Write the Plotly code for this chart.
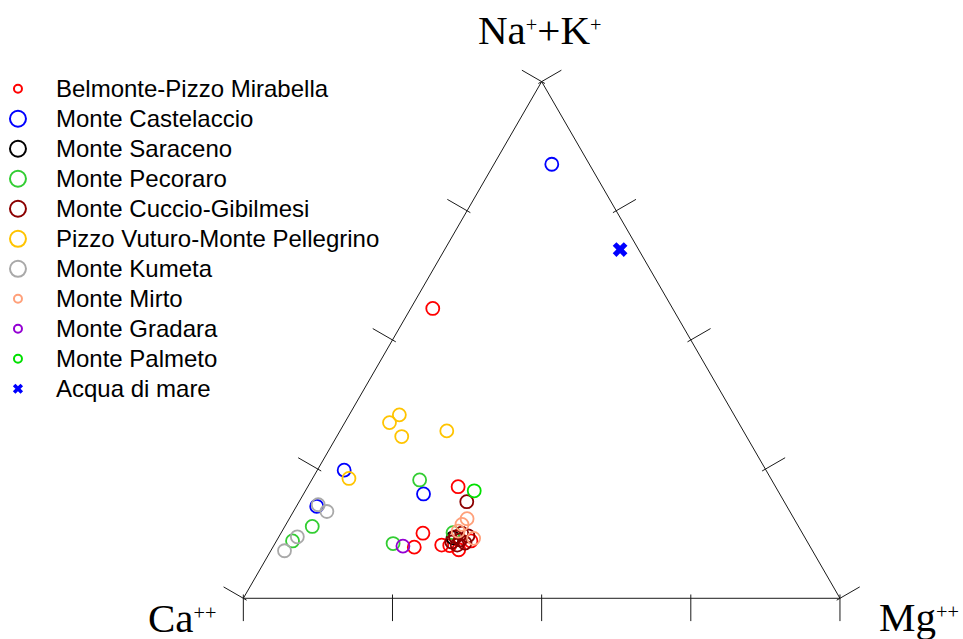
import plotly.graph_objects as go

# ---- legend / group definitions ----
groups = ["Belmonte-Pizzo Mirabella", "Monte Castelaccio", "Monte Saraceno", "Monte Pecoraro",
          "Monte Cuccio-Gibilmesi", "Pizzo Vuturo-Monte Pellegrino", "Monte Kumeta",
          "Monte Mirto", "Monte Gradara", "Monte Palmeto", "Acqua di mare"]
colors = ["#FF0000", "#0000FF", "#000000", "#32CD32", "#8B0000", "#FFC400",
          "#A9A9A9", "#FFA07A", "#9400D3", "#00E000", "#0000FF"]

# ---- data: % of meq  (Na+K, Ca, Mg) ----
belmonte_nak = [56.1, 21.6, 12.6, 9.9, 10.3, 10.2, 9.4, 11.1]
belmonte_ca = [40.2, 53.2, 63.6, 66.4, 61.6, 60.3, 59.2, 56.3]
belmonte_mg = [3.7, 25.2, 23.8, 23.7, 28.1, 29.5, 31.4, 32.6]

castelaccio_nak = [84.0, 24.8, 20.2, 17.8]
castelaccio_ca = [6.3, 70.7, 59.7, 78.8]
castelaccio_mg = [9.7, 4.5, 20.1, 3.4]

saraceno_nak = [11.7]
saraceno_ca = [59.0]
saraceno_mg = [29.3]

pecoraro_nak = [13.9, 11.1, 22.9, 10.6, 12.7]
pecoraro_ca = [81.5, 86.2, 59.0, 69.6, 58.5]
pecoraro_mg = [4.6, 2.7, 18.1, 19.8, 28.8]

cuccio_nak = [18.7, 11.9, 11.3, 10.7, 10.9, 12.1, 10.3, 12.6]
cuccio_ca = [53.2, 58.5, 58.0, 57.5, 59.6, 56.3, 59.0, 57.1]
cuccio_mg = [28.1, 29.6, 30.7, 31.8, 29.5, 31.6, 30.7, 30.3]

vuturo_nak = [35.5, 34.0, 31.3, 32.4, 23.2]
vuturo_ca = [56.1, 58.5, 57.8, 49.7, 70.7]
vuturo_mg = [8.4, 7.5, 10.9, 17.9, 6.1]

kumeta_nak = [18.1, 16.8, 11.9, 9.2]
kumeta_ca = [78.4, 77.6, 85.0, 88.5]
kumeta_mg = [3.5, 5.6, 3.1, 2.3]

mirto_nak = [15.4, 14.3, 11.6, 13.0]
mirto_ca = [54.8, 56.2, 55.6, 57.5]
mirto_mg = [29.8, 29.5, 32.8, 29.5]

gradara_nak = [10.1]
gradara_ca = [68.2]
gradara_mg = [21.7]

palmeto_nak = [20.8]
palmeto_ca = [50.9]
palmeto_mg = [28.3]

mare_nak = [67.5]
mare_ca = [3.1]
mare_mg = [29.4]

# ---- axis ticks (values along each edge, in %) ----
tick_values = [0, 25, 50, 75, 100]

series = [
    (belmonte_nak, belmonte_ca, belmonte_mg),
    (castelaccio_nak, castelaccio_ca, castelaccio_mg),
    (saraceno_nak, saraceno_ca, saraceno_mg),
    (pecoraro_nak, pecoraro_ca, pecoraro_mg),
    (cuccio_nak, cuccio_ca, cuccio_mg),
    (vuturo_nak, vuturo_ca, vuturo_mg),
    (kumeta_nak, kumeta_ca, kumeta_mg),
    (mirto_nak, mirto_ca, mirto_mg),
    (gradara_nak, gradara_ca, gradara_mg),
    (palmeto_nak, palmeto_ca, palmeto_mg),
    (mare_nak, mare_ca, mare_mg),
]

legend_sizes = [8, 16, 16, 16, 16, 16, 16, 8, 8, 8, 9]
legend_symbols = ["circle-open"] * 10 + ["x"]

fig = go.Figure()

# legend entries (no data of their own)
for name, col, sz, sym in zip(groups, colors, legend_sizes, legend_symbols):
    fig.add_trace(go.Scatterternary(
        a=[None], b=[None], c=[None], mode="markers",
        name='<span style="font-size:24px">' + name + '</span>',
        marker=dict(symbol=sym, size=sz, color=col,
                    line=dict(width=2 if sym == "circle-open" else 0, color=col)),
        showlegend=True, hoverinfo="skip"))

# outward, perpendicular tick marks on the three edges
# (a short line marker sitting on the edge, pushed outward by its half-length)
TICK = 19


def tick_trace(a, b, c, angle):
    return go.Scatterternary(
        a=a, b=b, c=c, mode="markers", cliponaxis=False,
        marker=dict(symbol="line-ns", size=TICK, angle=angle, standoff=TICK / 2,
                    color="#1a1a1a", line=dict(width=1, color="#1a1a1a")),
        showlegend=False, hoverinfo="skip")


# bottom edge (Na+K = 0), Ca -> Mg
fig.add_trace(tick_trace([0 for t in tick_values], [100 - t for t in tick_values],
                         [t for t in tick_values], 0))
# left edge (Mg = 0), Ca -> Na+K
fig.add_trace(tick_trace([t for t in tick_values], [100 - t for t in tick_values],
                         [0 for t in tick_values], 120))
# right edge (Ca = 0), Mg -> Na+K
fig.add_trace(tick_trace([t for t in tick_values], [0 for t in tick_values],
                         [100 - t for t in tick_values], -120))

# data points
for name, col, (na, ca, mg) in zip(groups, colors, series):
    is_sea = name == "Acqua di mare"
    fig.add_trace(go.Scatterternary(
        a=na, b=ca, c=mg, mode="markers", name=name, showlegend=False,
        cliponaxis=False,
        marker=dict(symbol="x" if is_sea else "circle-open", size=13, color=col,
                    line=dict(width=0 if is_sea else 1.8, color=col))))

axis_style = dict(showgrid=False, showticklabels=False, ticks="",
                  showline=True, linecolor="#1a1a1a", linewidth=1,
                  min=0, title=dict(text=""))

fig.update_layout(
    width=963, height=639,
    margin=dict(l=0, r=0, t=0, b=0, autoexpand=False),
    paper_bgcolor="white", plot_bgcolor="white",
    ternary=dict(
        sum=100, bgcolor="white",
        domain=dict(x=[0.25265, 0.87227], y=[0.0637, 0.8723]),
        aaxis=axis_style, baxis=axis_style, caxis=axis_style,
    ),
    legend=dict(x=-0.0208, y=0.8924, xanchor="left", yanchor="top",
                itemwidth=66, bgcolor="rgba(0,0,0,0)", borderwidth=0,
                font=dict(family="Liberation Sans, Arial", size=20.77, color="black")),
    showlegend=True,
)

serif = dict(family="Liberation Serif, Times New Roman", size=41, color="black")
sup = '<span style="font-size:29px"><sup>{}</sup></span>'
fig.add_annotation(text="Na" + sup.format("+") + "+K" + sup.format("+"),
                   xref="paper", yref="paper",
                   x=539.5 / 963, y=1 - 29.5 / 639, xanchor="center", yanchor="middle",
                   showarrow=False, font=serif)
fig.add_annotation(text="Ca" + sup.format("++"), xref="paper", yref="paper",
                   x=181.5 / 963, y=1 - 618 / 639, xanchor="center", yanchor="middle",
                   showarrow=False, font=serif)
fig.add_annotation(text="Mg" + sup.format("++"), xref="paper", yref="paper",
                   x=918.5 / 963, y=1 - 617 / 639, xanchor="center", yanchor="middle",
                   showarrow=False, font=serif)

fig.write_html("out.html", config={"displayModeBar": False},
               post_script="document.body.style.margin='0';")
